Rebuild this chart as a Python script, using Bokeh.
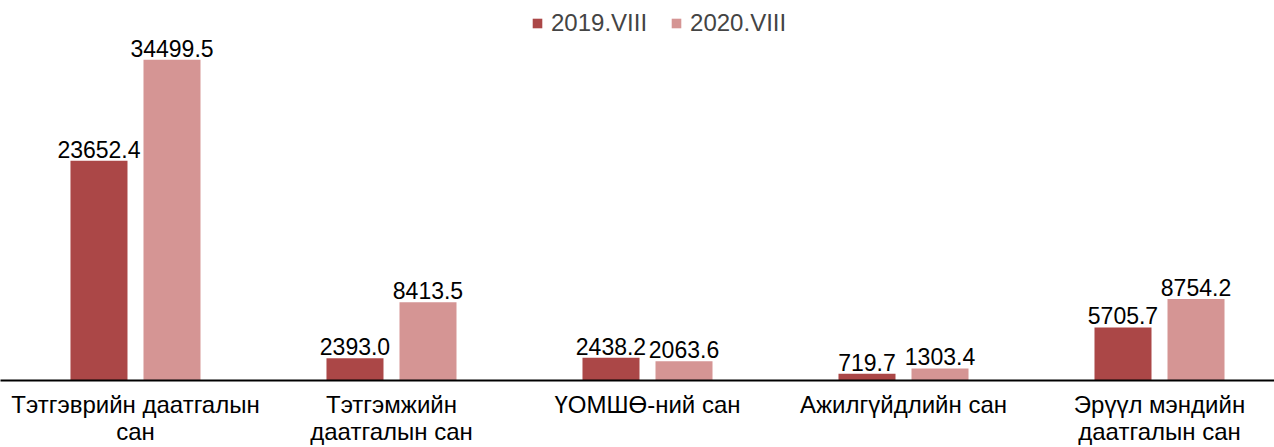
from bokeh.plotting import figure
from bokeh.models import ColumnDataSource, Range1d, FixedTicker, Legend, LegendItem, LabelSet
from bokeh.core.properties import value
from bokeh.embed import file_html
from bokeh.resources import INLINE

categories = ["Тэтгэврийн даатгалын\nсан", "Тэтгэмжийн\nдаатгалын сан", "ҮОМШӨ-ний сан",
              "Ажилгүйдлийн сан", "Эрүүл мэндийн\nдаатгалын сан"]
series_names = ["2019.VIII", "2020.VIII"]
values_2019 = [23652.4, 2393.0, 2438.2, 719.7, 5705.7]
values_2020 = [34499.5, 8413.5, 2063.6, 1303.4, 8754.2]
colors = ["#AB4747", "#D59594"]

FONT = "Liberation Sans"
idx = list(range(len(categories)))
off = 0.1426
bw = 0.2227

p = figure(width=1274, height=447, output_backend="svg", toolbar_location=None,
           x_range=Range1d(-0.5273, 4.4492), y_range=Range1d(0, 40878),
           min_border_left=0, min_border_right=0, min_border_top=0, min_border_bottom=0)
p.outline_line_color = None
p.grid.visible = False
p.yaxis.visible = False

renderers = []
for vals, col, sign in [(values_2019, colors[0], -1), (values_2020, colors[1], 1)]:
    src = ColumnDataSource(dict(x=[i + sign * off for i in idx], top=vals,
                                lab=[f"{v:.1f}" for v in vals]))
    r = p.vbar(x="x", top="top", width=bw, bottom=0, source=src, fill_color=col, line_color=None)
    renderers.append(r)
    p.add_layout(LabelSet(x="x", y="top", text="lab", source=src, text_align="center",
                          text_baseline="bottom", y_offset=3, text_font=value(FONT),
                          text_font_size="23px", text_color="#000000"))

ax = p.xaxis[0]
ax.ticker = FixedTicker(ticks=idx)
ax.major_label_overrides = {i: c for i, c in zip(idx, categories)}
ax.major_tick_line_color = None
ax.minor_tick_line_color = None
ax.major_tick_out = 0
ax.major_tick_in = 0
ax.minor_tick_out = 0
ax.minor_tick_in = 0
ax.axis_line_color = "#000000"
ax.axis_line_width = 2
ax.major_label_text_font = FONT
ax.major_label_text_font_size = "24px"
ax.major_label_text_line_height = 1.0
ax.major_label_text_color = "#000000"
ax.major_label_standoff = 10

legend = Legend(items=[LegendItem(label=n, renderers=[r]) for n, r in zip(series_names, renderers)],
                location=(531, 343), orientation="horizontal",
                label_text_font=FONT, label_text_font_size="24px",
                glyph_width=12, glyph_height=12, label_standoff=8, spacing=23,
                border_line_color=None, background_fill_alpha=0, padding=7, margin=0)
p.add_layout(legend, "center")

open("out.html", "w").write(file_html(p, INLINE))
